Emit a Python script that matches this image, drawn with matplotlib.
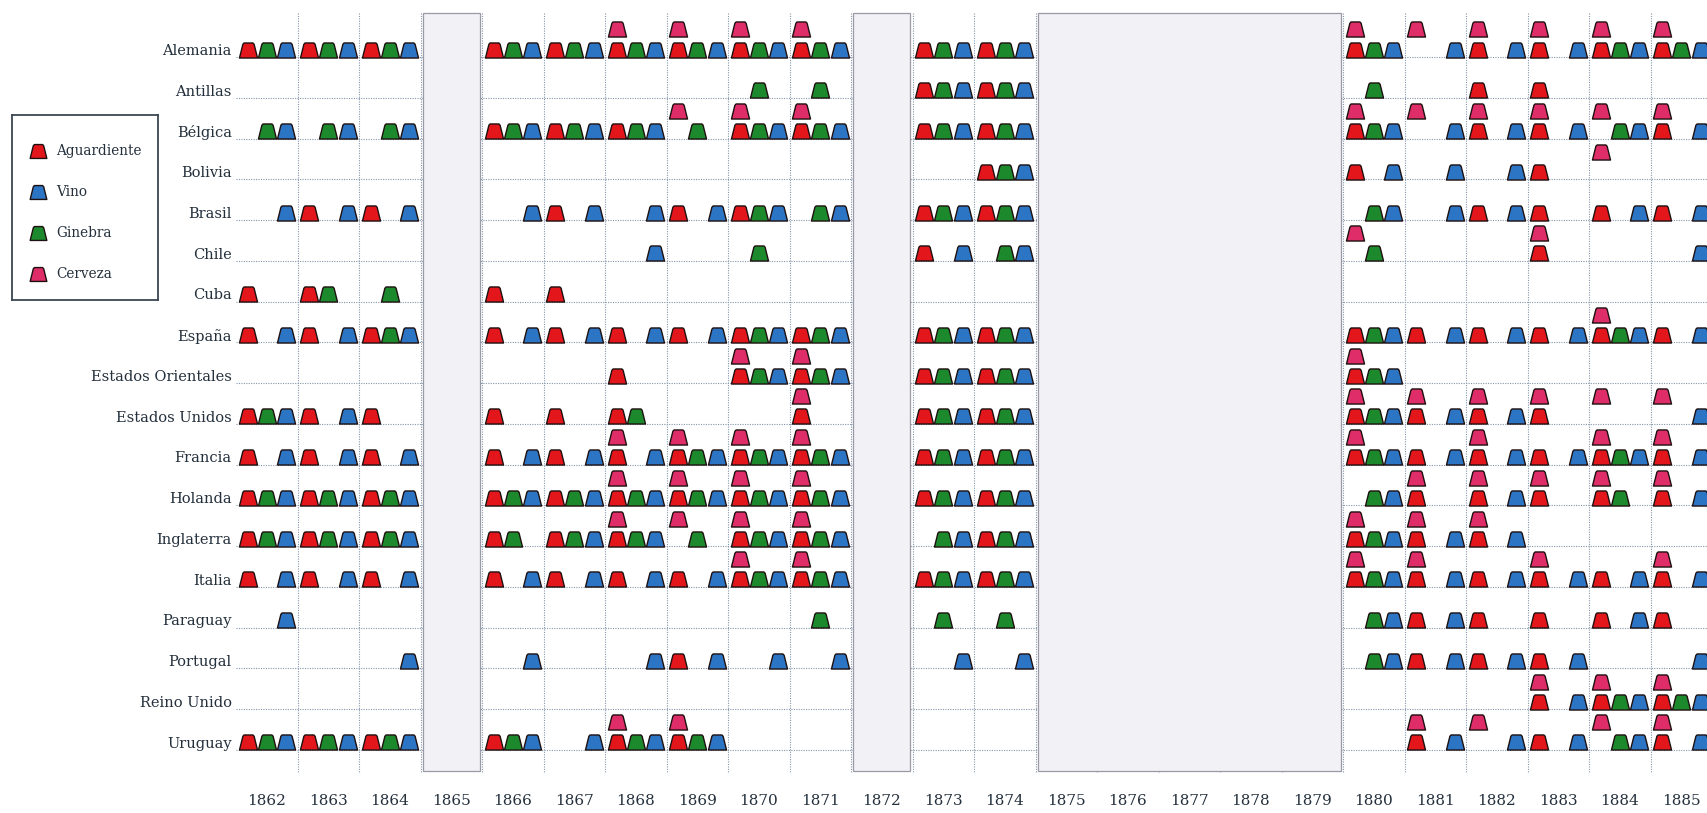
import matplotlib
matplotlib.use("Agg")
import matplotlib.pyplot as plt
from matplotlib.path import Path
from matplotlib.patches import Rectangle

# years that have data (one column per year)
years = [1862, 1863, 1864, 1866, 1867, 1868, 1869, 1870, 1871,
         1873, 1874, 1880, 1881, 1882, 1883, 1884, 1885]
# years without records (shown as grey boxes)
gap_years = [(1865, 1865), (1872, 1872), (1875, 1879)]
year_labels = list(range(1862, 1886))

countries = ["Alemania", "Antillas", "Bélgica", "Bolivia", "Brasil", "Chile",
             "Cuba", "España", "Estados Orientales", "Estados Unidos", "Francia",
             "Holanda", "Inglaterra", "Italia", "Paraguay", "Portugal",
             "Reino Unido", "Uruguay"]

# A = Aguardiente, V = Vino, G = Ginebra, C = Cerveza   (one entry per year above)
alemania = ["AGV", "AGV", "AGV", "AGV", "AGV", "CAGV", "CAGV", "CAGV", "CAGV",
            "AGV", "AGV", "CAGV", "CV", "CAV", "CAV", "CAGV", "CAGV"]
antillas = ["", "", "", "", "", "", "", "G", "G",
            "AGV", "AGV", "G", "", "A", "A", "", ""]
belgica = ["GV", "GV", "GV", "AGV", "AGV", "AGV", "CG", "CAGV", "CAGV",
           "AGV", "AGV", "CAGV", "CV", "CAV", "CAV", "CGV", "CAV"]
bolivia = ["", "", "", "", "", "", "", "", "",
           "", "AGV", "AV", "V", "V", "A", "C", ""]
brasil = ["V", "AV", "AV", "V", "AV", "V", "AV", "AGV", "GV",
          "AGV", "AGV", "GV", "V", "AV", "A", "AV", "AV"]
chile = ["", "", "", "", "", "V", "", "G", "",
         "AV", "GV", "CG", "", "", "CA", "", "V"]
cuba = ["A", "AG", "G", "A", "A", "", "", "", "",
        "", "", "", "", "", "", "", ""]
espana = ["AV", "AV", "AGV", "AV", "AV", "AV", "AV", "AGV", "AGV",
          "AGV", "AGV", "AGV", "AV", "AV", "AV", "CAGV", "AV"]
est_orientales = ["", "", "", "", "", "A", "", "CAGV", "CAGV",
                  "AGV", "AGV", "CAGV", "", "", "", "", ""]
est_unidos = ["AGV", "AV", "A", "A", "A", "AG", "", "", "CA",
              "AGV", "AGV", "CAGV", "CAV", "CAV", "CA", "C", "CV"]
francia = ["AV", "AV", "AV", "AV", "AV", "CAV", "CAGV", "CAGV", "CAGV",
           "AGV", "AGV", "CAGV", "AV", "CAV", "AV", "CAGV", "CAV"]
holanda = ["AGV", "AGV", "AGV", "AGV", "AGV", "CAGV", "CAGV", "CAGV", "CAGV",
           "AGV", "AGV", "GV", "CA", "CAV", "CA", "CAG", "CAV"]
inglaterra = ["AGV", "AGV", "AGV", "AG", "AGV", "CAGV", "CG", "CAGV", "CAGV",
              "GV", "AGV", "CAGV", "CAV", "CAV", "", "", ""]
italia = ["AV", "AV", "AV", "AV", "AV", "AV", "AV", "CAGV", "CAGV",
          "AGV", "AGV", "CAGV", "CAV", "AV", "CAV", "AV", "CAV"]
paraguay = ["V", "", "", "", "", "", "", "", "G",
            "G", "G", "GV", "AV", "A", "A", "AV", "A"]
portugal = ["", "", "V", "V", "", "V", "AV", "V", "V",
            "V", "V", "GV", "AV", "AV", "AV", "", "V"]
reino_unido = ["", "", "", "", "", "", "", "", "",
               "", "", "", "", "", "CAV", "CAGV", "CAGV"]
uruguay = ["AGV", "AGV", "AGV", "AGV", "V", "CAGV", "CAGV", "", "",
           "", "", "", "CAV", "CV", "AV", "CGV", "CAV"]

rows = [alemania, antillas, belgica, bolivia, brasil, chile, cuba, espana,
        est_orientales, est_unidos, francia, holanda, inglaterra, italia,
        paraguay, portugal, reino_unido, uruguay]

legend_order = ["A", "V", "G", "C"]
product_names = {"A": "Aguardiente", "V": "Vino", "G": "Ginebra", "C": "Cerveza"}
product_colors = {"A": "#e3161c", "V": "#2c74c4", "G": "#1c8a2c", "C": "#de2d68"}

# slot inside a year column and height level (0 = on the line, 1 = stacked)
slot = {"A": 0.19, "G": 0.5, "V": 0.82, "C": 0.19}
level = {"A": 0.184, "G": 0.184, "V": 0.184, "C": 0.675}

text_color = "#24303c"
grid_color = "#8696ab"

# trapezoid "bottle" marker
bottle = Path([(-0.9, -0.75), (0.9, -0.75), (0.56, 0.62), (0.44, 0.75),
               (-0.44, 0.75), (-0.56, 0.62), (-0.9, -0.75)],
              [Path.MOVETO] + [Path.LINETO] * 5 + [Path.CLOSEPOLY])

fig = plt.figure(figsize=(17.08, 8.13), dpi=100)
W, H = 1708, 813
ax = fig.add_axes([236 / W, (H - 776) / H, 1476 / W, 766 / H])
ax.set_xlim(1862, 1886)
ax.set_ylim(-17.638, 1.153)

# grid: dotted line under each country, dotted verticals between years
for i in range(len(countries)):
    ax.plot([1862, 1886], [-i, -i], color=grid_color, lw=0.8,
            ls=(0, (1, 1.2)), zorder=1)
for yr in year_labels[1:]:
    ax.plot([yr, yr], [1.08, -17.55], color=grid_color, lw=0.8,
            ls=(0, (1, 1.2)), zorder=1)

# grey boxes for years without data
for y0, y1 in gap_years:
    ax.add_patch(Rectangle((y0 + 0.04, -17.52), (y1 - y0 + 1) - 0.08, 18.6,
                           facecolor="#f2f1f6", edgecolor="#9a99a6",
                           lw=0.9, zorder=2))

# markers
for p in legend_order:
    xs, ys = [], []
    for i, row in enumerate(rows):
        for yr, code in zip(years, row):
            if p in code:
                xs.append(yr + slot[p])
                ys.append(-i + level[p])
    ax.plot(xs, ys, ls="", marker=bottle, ms=13, mfc=product_colors[p],
            mec="#1e1010", mew=1.0, zorder=3)

ax.set_yticks([-i + 0.19 for i in range(len(countries))], countries)
ax.set_xticks([y + 0.5 for y in year_labels], [str(y) for y in year_labels])
ax.tick_params(axis="y", length=0, pad=3, labelsize=10.5, labelcolor=text_color)
ax.tick_params(axis="x", length=0, pad=13, labelsize=11, labelcolor=text_color)
for lab in ax.get_xticklabels() + ax.get_yticklabels():
    lab.set_family("DejaVu Serif")
for s in ax.spines.values():
    s.set_visible(False)

# legend box
lax = fig.add_axes([12 / W, (H - 300) / H, 146 / W, 185 / H])
lax.set_xlim(0, 146)
lax.set_ylim(185, 0)
lax.set_xticks([])
lax.set_yticks([])
for s in lax.spines.values():
    s.set_color("#3a4652")
    s.set_linewidth(1.3)
for k, p in enumerate(legend_order):
    yy = 36 + k * 41
    lax.plot([26], [yy], ls="", marker=bottle, ms=12, mfc=product_colors[p],
             mec="#1e1010", mew=1.0)
    lax.text(44, yy, product_names[p], va="center", ha="left", fontsize=9.8,
             color=text_color, family="DejaVu Serif")

fig.savefig("out.png", dpi=100)
